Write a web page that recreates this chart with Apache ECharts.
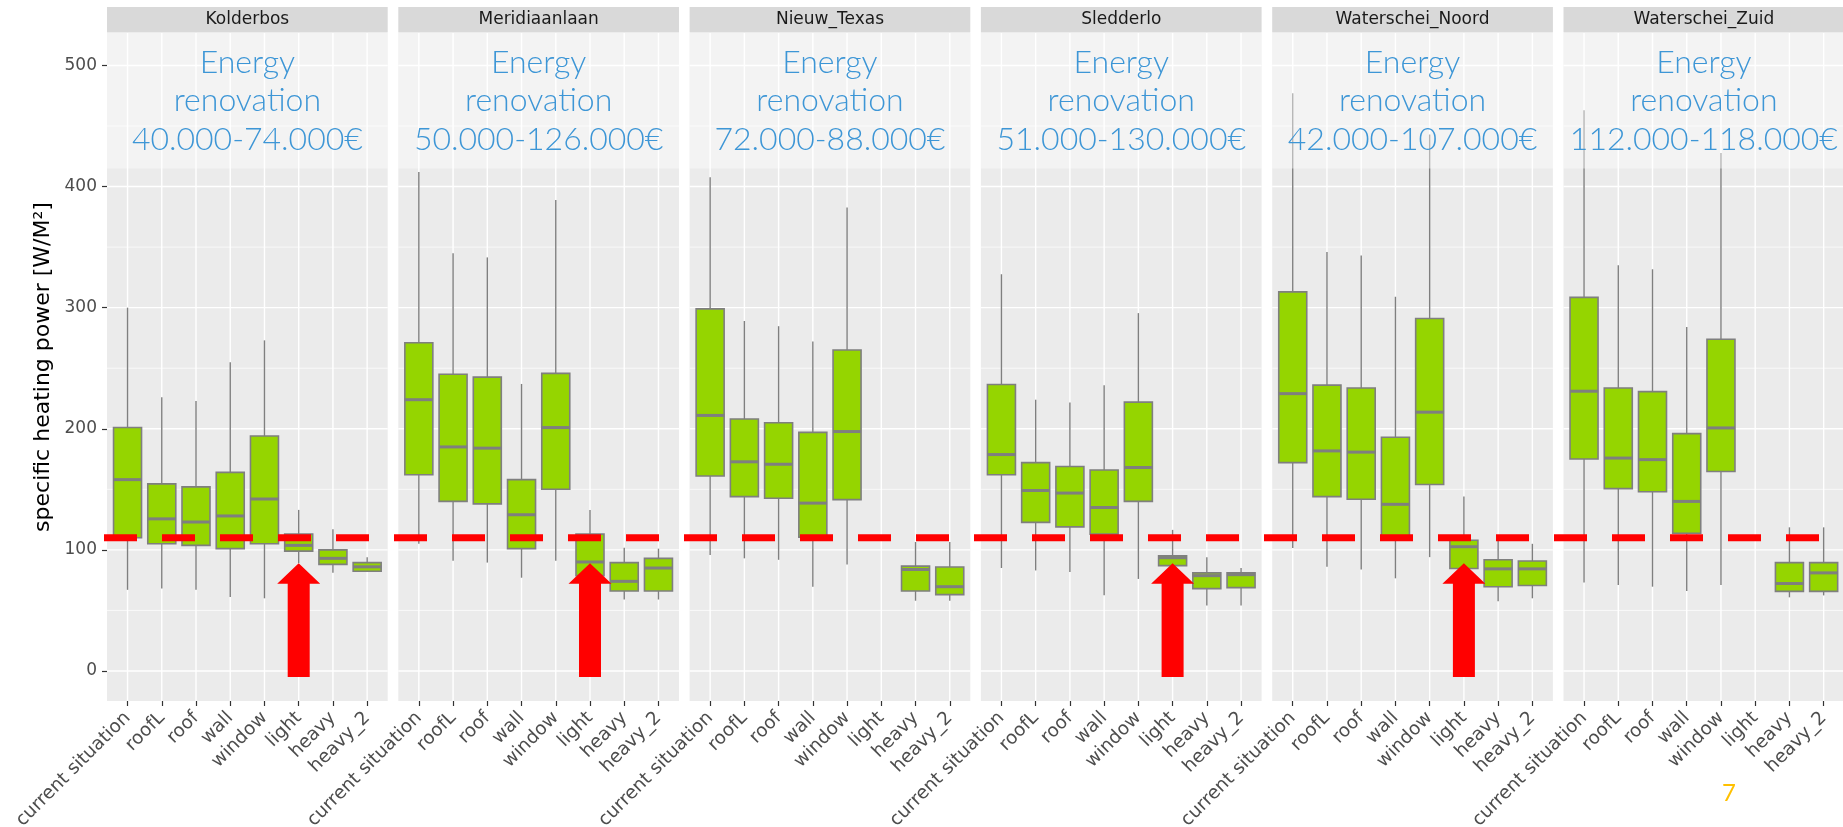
<!DOCTYPE html>
<html><head><meta charset="utf-8">
<script src="https://cdn.jsdelivr.net/npm/echarts@6/dist/echarts.min.js"></script>
<style>html,body{margin:0;padding:0;background:#fff}#c{width:1843px;height:827px}</style>
</head><body><div id="c"></div>
<script>
// ---------- data ----------
const categories = ['current situation','roofL','roof','wall','window','light','heavy','heavy_2'];
const districts = ['Kolderbos','Meridiaanlaan','Nieuw_Texas','Sledderlo','Waterschei_Noord','Waterschei_Zuid'];
const costRanges = ['40.000-74.000€','50.000-126.000€','72.000-88.000€','51.000-130.000€','42.000-107.000€','112.000-118.000€'];
// each entry: [lower whisker, Q1, median, Q3, upper whisker]
const kolderbos = [[67,110,158,201,300],[68,105,125.6,154.5,226],[67,103.7,123,152,223],[61,101,128,164,255],[60,105,142,194,273],[89,99,103.7,113,133],[81,88,93,100,117],[82,82.4,86,89.5,94]];
const meridiaanlaan = [[105,162,224,271,412],[91,140,185,245,345],[89.5,138,184,242.6,341.5],[77,101,129,158,237],[91,150,201,245.7,389],[65,78.7,90,113,133],[59,66,74,89.5,101.7],[59,66,85,93,101]];
const nieuwTexas = [[95.7,161,211,299,407.7],[93,144,172.7,208,289],[91.8,142.6,170.7,205,284.7],[69.6,110.5,138.6,197,272],[88,141.5,197.7,265,382.7],null,[58,66,83.8,86.6,106.5],[58,63,69.6,85.8,106.5]];
const sledderlo = [[85,162,178.7,236.6,327.6],[83,122.7,149,172,224],[81.8,119,146.9,168.8,221.6],[62.5,113,135,166,236],[76,140,168,222,295.5],[80,87,93.5,95,116.5],[54,68,78.7,81,93.8],[54,68.8,79.5,81,85]];
const waterscheiNoord = [[101.6,172,229,313,477],[86,144,181.7,236,346],[83.7,141.8,180.7,233.7,343],[76.5,108.8,137.6,193,309],[94,154,213.7,291,443],[70,84.6,102.6,108,144],[57.5,69.6,84.3,91.8,109.8],[60,70.6,84.3,90.8,105]];
const waterscheiZuid = [[73,175,231,308.5,463],[71,150.6,175.8,233.7,335],[69.6,148,174.5,230.7,331.7],[66,113.7,140,196,284],[71,164.7,200.7,273.9,427.8],null,[60.8,65.7,72.2,89.5,118.6],[62.4,65.7,81,89.5,118.6]];
const panelStats = [kolderbos, meridiaanlaan, nieuwTexas, sledderlo, waterscheiNoord, waterscheiZuid];
const threshold = 110;          // red dashed reference line
const arrowCategory = 'light';
const arrowTip = 89;
const arrowBase = -5;
const yTicks = [0,100,200,300,400,500];
const yMinorTicks = [50,150,250,350,450];
const overlayFrom = 415;
const yMin = -24.8, yMax = 526.8;
const yTitle = 'specific heating power [W/M²]';
const pageNumber = '7';

// ---------- layout ----------
const L0 = 107, STEP = 291.3, PW = 280.7, PTOP = 33, PH = 668;
const STRIP_TOP = 7, STRIP_H = 25.5;
const BOX_W = 28;
const GREY = '#7f7f7f';
const catIdx = categories.map((c, i) => i);

const chart = echarts.init(document.getElementById('c'));

const grids = [], xAxes = [], yAxes = [], series = [];
districts.forEach((d, i) => {
  grids.push({left: L0 + i * STEP, top: PTOP, width: PW, height: PH, show: true,
    backgroundColor: '#ebebeb', borderWidth: 0, containLabel: false, outerBoundsMode: 'none'});
  xAxes.push({type: 'value', gridIndex: i, min: -0.6, max: 7.6, position: 'bottom',
    axisLine: {show: false, onZero: false}, splitLine: {show: false},
    axisTick: {show: true, customValues: catIdx, length: 5, lineStyle: {color: '#333', width: 1.2}},
    axisLabel: {show: true, customValues: catIdx, formatter: v => categories[Math.round(v)],
      rotate: 45, color: '#4d4d4d', fontSize: 18.5, fontFamily: 'DejaVu Sans', margin: 14}});
  yAxes.push({type: 'value', gridIndex: i, min: yMin, max: yMax, position: 'left',
    axisLine: {show: false, onZero: false}, splitLine: {show: false},
    axisTick: {show: i === 0, customValues: yTicks, length: 5, lineStyle: {color: '#333', width: 1.2}},
    axisLabel: {show: i === 0, customValues: yTicks, color: '#4d4d4d', fontSize: 17, fontFamily: 'DejaVu Sans', margin: 10},
    name: i === 0 ? yTitle : '', nameLocation: 'middle', nameGap: 53,
    nameTextStyle: {color: '#000', fontSize: 22, fontFamily: 'DejaVu Sans'}});

  // grid lines
  const gl = yTicks.map(v => [v, 0, 1]).concat(yMinorTicks.map(v => [v, 0, 0])).concat(catIdx.map(j => [j, 1, 1]));
  series.push({type: 'custom', xAxisIndex: i, yAxisIndex: i, z: 1, silent: true, data: gl,
    encode: {x: -1, y: -1},
    renderItem: (params, api) => {
      const cs = params.coordSys; const v = api.value(0), o = api.value(1), major = api.value(2);
      const lw = major ? 1.4 : 0.7;
      if (o === 0) {
        const y = api.coord([0, v])[1];
        return {type: 'line', shape: {x1: cs.x, y1: y, x2: cs.x + cs.width, y2: y}, style: {stroke: '#fff', lineWidth: lw}};
      }
      const x = api.coord([v, 0])[0];
      return {type: 'line', shape: {x1: x, y1: cs.y, x2: x, y2: cs.y + cs.height}, style: {stroke: '#fff', lineWidth: lw}};
    }});

  // boxes
  const boxData = panelStats[i].map((s, j) => s ? [j].concat(s) : null).filter(Boolean);
  series.push({type: 'custom', xAxisIndex: i, yAxisIndex: i, z: 2, data: boxData,
    encode: {x: 0, y: [1, 2, 3, 4, 5]},
    renderItem: (params, api) => {
      const x = api.value(0);
      const pMin = api.coord([x, api.value(1)]), pQ1 = api.coord([x, api.value(2)]),
            pMed = api.coord([x, api.value(3)]), pQ3 = api.coord([x, api.value(4)]),
            pMax = api.coord([x, api.value(5)]);
      const cx = pMin[0], hw = BOX_W / 2;
      return {type: 'group', children: [
        {type: 'line', shape: {x1: cx, y1: pMax[1], x2: cx, y2: pQ3[1]}, style: {stroke: GREY, lineWidth: 1.4}},
        {type: 'line', shape: {x1: cx, y1: pQ1[1], x2: cx, y2: pMin[1]}, style: {stroke: GREY, lineWidth: 1.4}},
        {type: 'rect', shape: {x: cx - hw, y: pQ3[1], width: BOX_W, height: pQ1[1] - pQ3[1]},
          style: {fill: '#95d500', stroke: GREY, lineWidth: 1.6}},
        {type: 'line', shape: {x1: cx - hw, y1: pMed[1], x2: cx + hw, y2: pMed[1]}, style: {stroke: GREY, lineWidth: 3}}
      ]};
    }});

  // translucent header band with renovation text
  series.push({type: 'custom', xAxisIndex: i, yAxisIndex: i, z: 3, silent: true, data: [[0, overlayFrom]],
    encode: {x: -1, y: -1},
    renderItem: (params, api) => {
      const cs = params.coordSys;
      const yb = api.coord([0, api.value(1)])[1];
      return {type: 'group', children: [
        {type: 'rect', shape: {x: cs.x, y: cs.y, width: cs.width, height: yb - cs.y}, style: {fill: 'rgba(255,255,255,0.42)'}},
        {type: 'text', x: cs.x + cs.width / 2, y: (cs.y + yb) / 2,
          style: {text: 'Energy\nrenovation\n' + costRanges[params.seriesIndex / 4 | 0], align: 'center', verticalAlign: 'middle',
            fontSize: 32, lineHeight: 38.5, fontFamily: 'Lato', fontWeight: 300, fill: '#3d96d6'}}
      ]};
    }});

  // arrows under the "light" category
  const ai = categories.indexOf(arrowCategory);
  const arrowData = panelStats[i][ai] ? [[ai, arrowBase, arrowTip]] : [];
  series.push({type: 'custom', xAxisIndex: i, yAxisIndex: i, z: 4, silent: true, data: arrowData,
    encode: {x: 0, y: [1, 2]},
    renderItem: (params, api) => {
      const b = api.coord([api.value(0), api.value(1)]), t = api.coord([api.value(0), api.value(2)]);
      const cx = b[0], sw = 11, hw = 21.5, hl = 20.6;
      return {type: 'polygon', shape: {points: [[cx - sw, b[1]], [cx + sw, b[1]], [cx + sw, t[1] + hl], [cx + hw, t[1] + hl],
        [cx, t[1]], [cx - hw, t[1] + hl], [cx - sw, t[1] + hl]]}, style: {fill: '#ff0000'}};
    }});
});

chart.setOption({animation: false, backgroundColor: '#fff', grid: grids, xAxis: xAxes, yAxis: yAxes, series: series});

const yLine = chart.convertToPixel({gridIndex: 0}, [0, threshold])[1];
const graphics = [];
districts.forEach((d, i) => {
  const x = L0 + i * STEP;
  graphics.push({type: 'rect', shape: {x: x, y: STRIP_TOP, width: PW, height: STRIP_H}, style: {fill: '#d9d9d9'}, z: 10});
  graphics.push({type: 'text', x: x + PW / 2, y: STRIP_TOP + STRIP_H / 2,
    style: {text: d, align: 'center', verticalAlign: 'middle', fontSize: 17, fontFamily: 'DejaVu Sans', fill: '#1a1a1a'}, z: 11});
});
graphics.push({type: 'line', shape: {x1: L0 - 3, y1: yLine, x2: 1843, y2: yLine},
  style: {stroke: '#ff0000', lineWidth: 7, lineDash: [33, 25]}, z: 100});
graphics.push({type: 'text', x: 1722, y: 781, style: {text: pageNumber, fontSize: 24, fontFamily: 'Lato', fill: '#ffc000'}, z: 100});
chart.setOption({graphic: graphics});
</script></body></html>
